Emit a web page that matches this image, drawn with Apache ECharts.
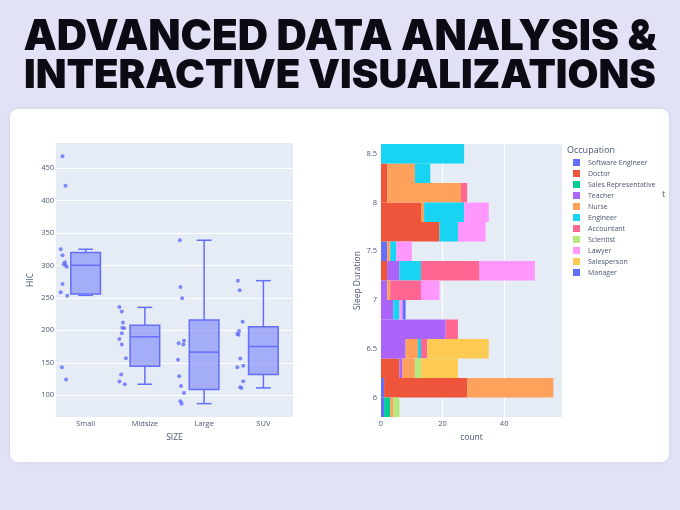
<!DOCTYPE html>
<html>
<head>
<meta charset="utf-8">
<title>Advanced Data Analysis &amp; Interactive Visualizations</title>
<script src="https://cdn.jsdelivr.net/npm/echarts@6/dist/echarts.min.js"></script>
<style>
    html, body { margin: 0; padding: 0; background: #e2e2f6; }
    #main { width: 680px; height: 510px; }
</style>
</head>
<body>
<div id="main"></div>
<script>
// ---- left chart: HIC by SIZE ----
var sizes = ['Small', 'Midsize', 'Large', 'SUV'];
// [lower fence, q1, median, q3, upper fence]
var boxSmall = [253.9, 255.9, 300.2, 319.8, 324.9];
var boxMidsize = [117, 144.8, 190, 208, 235.4];
var boxLarge = [87.1, 108.7, 166.4, 215.8, 338.8];
var boxSuv = [111.3, 131.9, 175.1, 205.5, 276.5];

// individual HIC points, and their jitter (category units)
var hicSmall = [468, 422.7, 324.9, 315.6, 304.8, 302, 300.7, 298, 271.4, 258.5, 253.4, 143.2, 124.2];
var jitSmall = [-0.39, -0.34, -0.42, -0.39, -0.35, -0.37, -0.34, -0.32, -0.39, -0.42, -0.31, -0.40, -0.33];
var hicMidsize = [235.9, 229.2, 212.2, 204, 203.4, 195.7, 186.5, 178.2, 157.1, 131.9, 121.1, 117];
var jitMidsize = [-0.43, -0.39, -0.37, -0.38, -0.35, -0.39, -0.43, -0.39, -0.32, -0.40, -0.43, -0.34];
var hicLarge = [338.8, 266.7, 249.3, 183.9, 180.3, 178.2, 154.6, 129.3, 114.4, 103.6, 90.7, 87.1];
var jitLarge = [-0.41, -0.40, -0.37, -0.34, -0.43, -0.35, -0.44, -0.42, -0.39, -0.34, -0.40, -0.38];
var hicSuv = [276.5, 261.6, 213.2, 198.8, 194.2, 193.2, 156.6, 143.2, 145.3, 121.6, 112.4, 111.3];
var jitSuv = [-0.43, -0.40, -0.35, -0.41, -0.44, -0.42, -0.39, -0.44, -0.34, -0.34, -0.39, -0.37];

// ---- right chart: Sleep Duration histogram by Occupation ----
var sleepBins = ['5.9', '6.1', '6.3', '6.5', '6.7', '6.9', '7.1', '7.3', '7.5', '7.7', '7.9', '8.1', '8.3', '8.5'];
var sleepTicks = [6, 6.5, 7, 7.5, 8, 8.5];
var countTicks = [0, 20, 40];
var occupations = ['Software Engineer', 'Doctor', 'Sales Representative', 'Teacher', 'Nurse', 'Engineer',
    'Accountant', 'Scientist', 'Lawyer', 'Salesperson', 'Manager'];
var occColors = ['#636efa', '#ef553b', '#00cc96', '#ab63fa', '#ffa15a', '#19d3f3',
    '#ff6692', '#b6e880', '#ff97ff', '#fecb52', '#636efa'];
var softwareEngineer = [1, 1, 0, 0, 0, 0, 0, 0, 2, 0, 0, 0, 0, 0];
var doctor = [0, 27, 6, 0, 0, 0, 0, 2, 0, 19, 13, 2, 2, 0];
var salesRep = [2, 0, 0, 0, 0, 0, 0, 0, 0, 0, 0, 0, 0, 0];
var teacher = [0, 0, 1, 8, 21, 4, 2, 4, 0, 0, 0, 0, 0, 0];
var nurse = [1, 28, 4, 4, 0, 0, 1, 0, 1, 0, 1, 24, 9, 0];
var engineer = [0, 0, 0, 1, 0, 2, 0, 7, 2, 6, 13, 0, 5, 27];
var accountant = [0, 0, 0, 2, 4, 0, 10, 19, 0, 0, 0, 2, 0, 0];
var scientist = [2, 0, 2, 0, 0, 0, 0, 0, 0, 0, 0, 0, 0, 0];
var lawyer = [0, 0, 0, 0, 0, 1, 6, 18, 5, 9, 8, 0, 0, 0];
var salesperson = [0, 0, 12, 20, 0, 0, 0, 0, 0, 0, 0, 0, 0, 0];
var manager = [0, 0, 0, 0, 0, 1, 0, 0, 0, 0, 0, 0, 0, 0];
var occCounts = [softwareEngineer, doctor, salesRep, teacher, nurse, engineer,
    accountant, scientist, lawyer, salesperson, manager];

var txt = '#4a5670';
var plotBg = '#e5ecf6';
var fontFam = 'Open Sans, Noto Sans, sans-serif';

var boxes = [boxSmall, boxMidsize, boxLarge, boxSuv];
var hics = [hicSmall, hicMidsize, hicLarge, hicSuv];
var jits = [jitSmall, jitMidsize, jitLarge, jitSuv];

var points = [];
hics.forEach(function (vals, i) {
    vals.forEach(function (v, k) {
        points.push([i + jits[i][k], v]);
    });
});

// plotly-like box: half-width caps on whiskers
function renderBox(params, api) {
    var i = api.value(0);
    var lo = api.coord([i, api.value(1)]);
    var q1 = api.coord([i, api.value(2)]);
    var md = api.coord([i, api.value(3)]);
    var q3 = api.coord([i, api.value(4)]);
    var hi = api.coord([i, api.value(5)]);
    var w = api.size([1, 0])[0] * 0.5;
    var x = lo[0];
    var st = { stroke: '#636efa', lineWidth: 1.5, fill: null };
    return {
        type: 'group',
        children: [
            { type: 'line', shape: { x1: x, y1: hi[1], x2: x, y2: q3[1] }, style: st },
            { type: 'line', shape: { x1: x, y1: q1[1], x2: x, y2: lo[1] }, style: st },
            { type: 'line', shape: { x1: x - w / 4, y1: hi[1], x2: x + w / 4, y2: hi[1] }, style: st },
            { type: 'line', shape: { x1: x - w / 4, y1: lo[1], x2: x + w / 4, y2: lo[1] }, style: st },
            { type: 'rect', shape: { x: x - w / 2, y: q3[1], width: w, height: q1[1] - q3[1] },
              style: { fill: 'rgba(99,110,250,0.5)', stroke: '#636efa', lineWidth: 1.5 } },
            { type: 'line', shape: { x1: x - w / 2, y1: md[1], x2: x + w / 2, y2: md[1] }, style: st }
        ]
    };
}

var series = [
    {
        type: 'custom',
        xAxisIndex: 1,
        yAxisIndex: 0,
        renderItem: renderBox,
        data: boxes.map(function (b, i) { return [i].concat(b); }),
        silent: true,
        z: 2
    },
    {
        type: 'scatter',
        xAxisIndex: 1,
        yAxisIndex: 0,
        symbolSize: 4,
        itemStyle: { color: '#636efa' },
        data: points,
        z: 3
    }
];

occupations.forEach(function (name, k) {
    series.push({
        name: name,
        type: 'bar',
        xAxisIndex: 2,
        yAxisIndex: 2,
        stack: 'occ',
        barCategoryGap: '0%',
        itemStyle: { color: occColors[k] },
        data: occCounts[k]
    });
});

var myChart = echarts.init(document.getElementById('main'));
myChart.setOption({
    backgroundColor: '#e2e2f6',
    animation: false,
    textStyle: { fontFamily: fontFam },
    graphic: [
        { type: 'rect', shape: { x: 10, y: 109, width: 659, height: 353, r: 8 },
          style: { fill: '#ffffff', shadowBlur: 4, shadowColor: 'rgba(0,0,0,0.08)' }, z: -10 },
        { type: 'text', left: 'center', top: 16,
          style: { text: 'ADVANCED DATA ANALYSIS &', font: '900 42px Inter, sans-serif', fill: '#0b0b14' } },
        { type: 'text', left: 'center', top: 56,
          style: { text: 'INTERACTIVE VISUALIZATIONS', font: '900 40px Inter, sans-serif', fill: '#0b0b14' } },
        { type: 'text', left: 567, top: 146,
          style: { text: 'Occupation', font: '9px ' + fontFam, fill: txt } },
        { type: 'text', left: 662, top: 190,
          style: { text: 't', font: '9px ' + fontFam, fill: '#555' } }
    ],
    legend: {
        data: occupations,
        orient: 'vertical',
        left: 573,
        top: 158,
        padding: 0,
        itemWidth: 7,
        itemHeight: 7,
        itemGap: 2,
        icon: 'rect',
        selectedMode: false,
        textStyle: { fontSize: 7, color: txt, lineHeight: 9, padding: [0, 0, 0, 3] }
    },
    grid: [
        { left: 56, top: 143, width: 237, height: 274, show: true, backgroundColor: plotBg, borderWidth: 0 },
        { left: 381, top: 144, width: 181, height: 273, show: true, backgroundColor: plotBg, borderWidth: 0 }
    ],
    xAxis: [
        {
            type: 'category', gridIndex: 0, data: sizes,
            axisLine: { show: false }, axisTick: { show: false },
            axisLabel: { color: txt, fontSize: 7.5, margin: 3 },
            name: 'SIZE', nameLocation: 'middle', nameGap: 14,
            nameTextStyle: { color: txt, fontSize: 8.5 }
        },
        { type: 'value', gridIndex: 0, min: -0.5, max: 3.5, show: false },
        {
            type: 'value', gridIndex: 1, min: 0, max: 58.8,
            axisLine: { show: false },
            axisTick: { show: false, customValues: countTicks },
            axisLabel: { color: txt, fontSize: 7.5, margin: 3, customValues: countTicks },
            splitLine: { lineStyle: { color: '#ffffff', width: 1 } },
            name: 'count', nameLocation: 'middle', nameGap: 14,
            nameTextStyle: { color: txt, fontSize: 8.5 }
        }
    ],
    yAxis: [
        {
            type: 'value', gridIndex: 0, min: 66.5, max: 488.6,
            axisLine: { show: false },
            axisTick: { show: false, customValues: [100, 150, 200, 250, 300, 350, 400, 450] },
            axisLabel: { color: txt, fontSize: 7.5, margin: 2, customValues: [100, 150, 200, 250, 300, 350, 400, 450] },
            splitLine: { lineStyle: { color: '#ffffff', width: 1 } },
            name: 'HIC', nameLocation: 'middle', nameGap: 21,
            nameTextStyle: { color: txt, fontSize: 8.5 }
        },
        {
            type: 'value', gridIndex: 1, min: 5.8, max: 8.6,
            axisLine: { show: false },
            axisTick: { show: false, customValues: sleepTicks },
            axisLabel: { color: txt, fontSize: 7.5, margin: 4, customValues: sleepTicks },
            splitLine: { show: false },
            name: 'Sleep Duration', nameLocation: 'middle', nameGap: 18,
            nameTextStyle: { color: txt, fontSize: 8.5 }
        },
        { type: 'category', gridIndex: 1, data: sleepBins, show: false }
    ],
    series: series
});
</script>
</body>
</html>
